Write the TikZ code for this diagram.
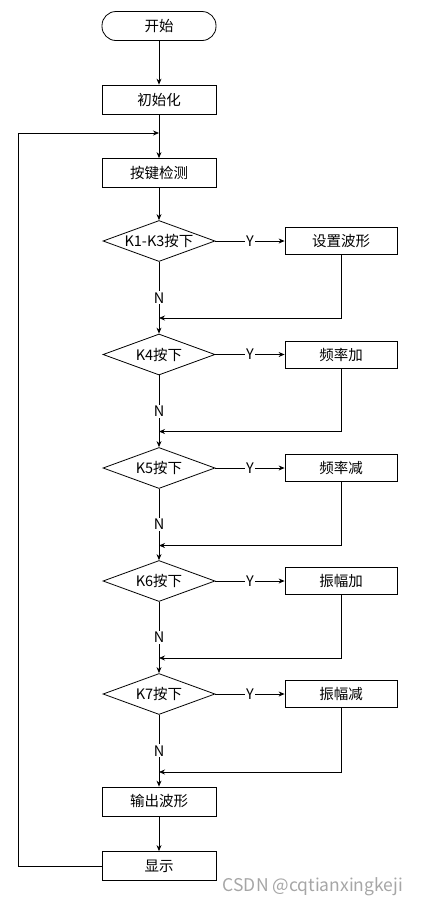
\documentclass[tikz,border=0pt]{standalone}
\usepackage{fontspec}
\setmainfont{Noto Sans CJK SC}
\usetikzlibrary{shapes.geometric,arrows.meta}

\begin{document}
\begin{tikzpicture}[x=1pt,y=-1pt,line width=0.8pt,
	font=\fontsize{14.5}{16}\selectfont,
	>={Stealth[length=6pt,width=5pt]},
	term/.style={draw,rectangle,rounded corners=14pt,minimum width=114pt,minimum height=29pt,inner sep=0},
	box/.style={draw,rectangle,minimum width=114pt,minimum height=29pt,inner sep=0},
	sbox/.style={draw,rectangle,minimum width=112pt,minimum height=27pt,inner sep=0},
	dec/.style={draw,diamond,minimum width=112pt,minimum height=41pt,inner sep=0},
	lbl/.style={fill=white,inner sep=1pt}]
	\useasboundingbox (0,0) rectangle (423,906);
	\node[term] (1) at (159,26) {开始};
	\node[box] (2) at (159,99.5) {初始化};
	\node[box] (3) at (159,173) {按键检测};
	\node[dec,label=center:{K1-K3按下}] (4) at (159,241) {};
	\node[sbox] (5) at (341,241) {设置波形};
	\node[dec,label=center:{K4按下}] (6) at (159,354.5) {};
	\node[sbox] (7) at (341,354.5) {频率加};
	\node[dec,label=center:{K5按下}] (8) at (159,468) {};
	\node[sbox] (9) at (341,468) {频率减};
	\node[dec,label=center:{K6按下}] (10) at (159,581) {};
	\node[sbox] (11) at (341,581) {振幅加};
	\node[dec,label=center:{K7按下}] (12) at (159,694) {};
	\node[sbox] (13) at (341,694) {振幅减};
	\node[box] (14) at (159,801.5) {输出波形};
	\node[box] (15) at (159,866) {显示};
	\coordinate (m0) at (159,133);
	\coordinate (m1) at (159,318);
	\coordinate (m2) at (159,431.5);
	\coordinate (m3) at (159,545.5);
	\coordinate (m4) at (159,658);
	\coordinate (m5) at (159,772);
	\draw[->] (1) -- (2);
	\draw[->] (2) -- (3);
	\draw[->] (3) -- (4);
	\draw[->] (4) -- node[lbl]{Y} (5);
	\draw[->] (4) -- node[lbl,pos=0.5]{N} (6);
	\draw[->] (5) |- (m1);
	\draw[->] (6) -- node[lbl]{Y} (7);
	\draw[->] (6) -- node[lbl,pos=0.5]{N} (8);
	\draw[->] (7) |- (m2);
	\draw[->] (8) -- node[lbl]{Y} (9);
	\draw[->] (8) -- node[lbl,pos=0.5]{N} (10);
	\draw[->] (9) |- (m3);
	\draw[->] (10) -- node[lbl]{Y} (11);
	\draw[->] (10) -- node[lbl,pos=0.5]{N} (12);
	\draw[->] (11) |- (m4);
	\draw[->] (12) -- node[lbl]{Y} (13);
	\draw[->] (12) -- node[lbl,pos=0.5]{N} (14);
	\draw[->] (13) |- (m5);
	\draw[->] (14) -- (15);
	\draw[->] (15.west) -- (18.5,866) -- (18.5,133) -- (m0);
	\node[text=gray!70,font=\fontsize{17.5}{20}\selectfont] (wm) at (313,887) {CSDN @cqtianxingkeji};
\end{tikzpicture}
\end{document}
